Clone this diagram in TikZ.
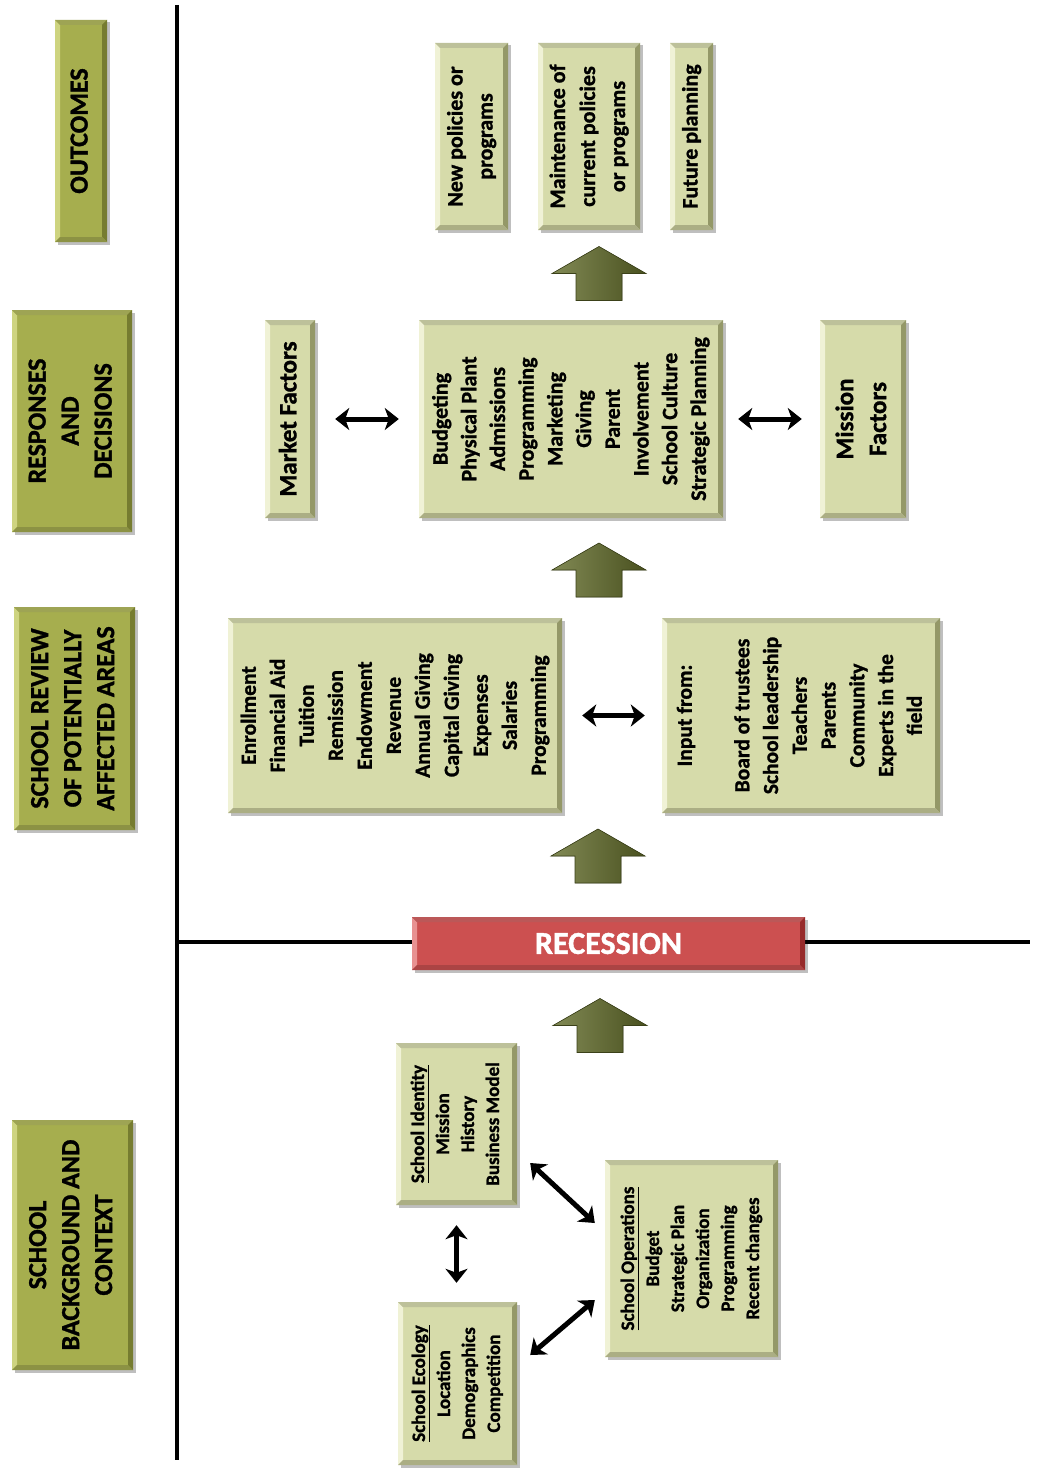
\documentclass[tikz,border=0pt]{standalone}
\usepackage{fontspec}
\setmainfont{Carlito}[BoldFeatures={FakeBold=1.2}]
\usetikzlibrary{arrows.meta,shadows,calc}
\definecolor{hfill}{RGB}{166,174,78}
\definecolor{hlight}{RGB}{206,212,128}
\definecolor{hdark}{RGB}{118,124,48}
\definecolor{cfill}{RGB}{214,219,170}
\definecolor{clight}{RGB}{240,242,214}
\definecolor{cdark}{RGB}{148,152,104}
\definecolor{rfill}{RGB}{204,80,80}
\definecolor{rlight}{RGB}{232,145,145}
\definecolor{rdark}{RGB}{150,42,42}
\definecolor{afill}{RGB}{98,108,42}
\newcommand{\rtxt}[1]{\rotatebox{90}{\begin{tabular}{@{}c@{}}#1\end{tabular}}}
\begin{document}
\begin{tikzpicture}[x=1pt,y=-1pt,
  bevel/.style 2 args={path picture={
    \path (path picture bounding box.north west) coordinate (bNW)
          (path picture bounding box.north east) coordinate (bNE)
          (path picture bounding box.south west) coordinate (bSW)
          (path picture bounding box.south east) coordinate (bSE);
    \fill[#1] (bNW) -- (bSW) -- ([shift={(5pt,5pt)}]bSW) -- ([shift={(5pt,-5pt)}]bNW) -- cycle;
    \fill[#1!45!#2] (bNW) -- (bNE) -- ([shift={(-5pt,-5pt)}]bNE) -- ([shift={(5pt,-5pt)}]bNW) -- cycle;
    \fill[#2] (bNE) -- (bSE) -- ([shift={(-5pt,5pt)}]bSE) -- ([shift={(-5pt,-5pt)}]bNE) -- cycle;
    \fill[#2!75!#1] (bSW) -- (bSE) -- ([shift={(-5pt,5pt)}]bSE) -- ([shift={(5pt,5pt)}]bSW) -- cycle;
  }},
  sz/.style 2 args={minimum width=#1pt, minimum height=#2pt},
  box/.style={rectangle, inner sep=0pt, fill=cfill, bevel={clight}{cdark},
    drop shadow={shadow xshift=2.5pt, shadow yshift=-2.5pt, opacity=0.25, fill=black},
    font=\bfseries\fontsize{22}{29}\selectfont},
  head/.style={box, fill=hfill, bevel={hlight}{hdark}, font=\bfseries\fontsize{26}{33}\selectfont},
  dbl/.style={{Stealth[length=14pt,width=22pt,inset=4pt]}-{Stealth[length=14pt,width=22pt,inset=4pt]}, line width=5pt, black},
  bigup/.pic={\fill[left color=afill!80!white, right color=afill!75!black, draw=afill!60!black, line width=0.6pt]
    (0,-27) -- (47,0) -- (23,0) -- (23,27) -- (-23,27) -- (-23,0) -- (-47,0) -- cycle;}
]
\useasboundingbox (0,0) rectangle (1037,1469);
\fill[white] (0,0) rectangle (1037,1469);

% frame lines
\draw[line width=4pt] (177,5) -- (177,1460);
\draw[line width=3.5pt] (177,942) -- (1030,942);

% section headers
\node[head,sz={52}{222}] (hOut) at (81,131) {\rtxt{OUTCOMES}};
\node[head,sz={120}{222}] (hResp) at (72,421) {\rtxt{RESPONSES\\AND\\DECISIONS}};
\node[head,sz={121}{223}] (hRev) at (74.5,718.5) {\rtxt{SCHOOL REVIEW\\OF POTENTIALLY\\AFFECTED AREAS}};
\node[head,sz={121}{250}] (hBack) at (72.5,1245) {\rtxt{SCHOOL\\BACKGROUND AND\\CONTEXT}};

% outcomes
\node[box,sz={73}{187},font=\bfseries\fontsize{22}{30}\selectfont] (oNew) at (471.5,136.5) {\rtxt{New policies or\\programs}};
\node[box,sz={102}{187},font=\bfseries\fontsize{22}{30}\selectfont] (oMaint) at (589,136.5) {\rtxt{Maintenance of\\current policies\\or programs}};
\node[box,sz={43}{187},font=\bfseries\fontsize{22}{30}\selectfont] (oFut) at (691.5,136.5) {\rtxt{Future planning}};

% responses
\node[box,sz={50}{198},font=\bfseries\fontsize{25}{32}\selectfont] (rMarket) at (290,419) {\rtxt{Market Factors}};
\node[box,sz={304}{198},font=\bfseries\fontsize{22}{28.7}\selectfont] (rMain) at (571,419) {\rtxt{Budgeting\\Physical Plant\\Admissions\\Programming\\Marketing\\Giving\\Parent\\Involvement\\School Culture\\Strategic Planning}};
\node[box,sz={86}{198},font=\bfseries\fontsize{25}{33}\selectfont] (rMission) at (863,419) {\rtxt{Mission\\Factors}};

% review
\node[box,sz={334}{195},font=\bfseries\fontsize{21.5}{29}\selectfont] (vFin) at (395,715.5) {\rtxt{Enrollment\\Financial Aid\\Tuition\\Remission\\Endowment\\Revenue\\Annual Giving\\Capital Giving\\Expenses\\Salaries\\Programming}};
\node[box,sz={278}{195},font=\bfseries\fontsize{21.5}{28.75}\selectfont] (vInput) at (801,715.5) {\rtxt{Input from:\\ \\Board of trustees\\School leadership\\Teachers\\Parents\\Community\\Experts in the\\field}};

% recession
\node[box,fill=rfill,bevel={rlight}{rdark},sz={393}{53},text=white,font=\bfseries\fontsize{32}{38}\selectfont] (rec) at (608.5,943.5) {RECESSION};

% background
\node[box,sz={121}{162},font=\bfseries\fontsize{19}{25}\selectfont] (bIdent) at (456.5,1124) {\rtxt{\underline{School Identity}\\Mission\\History\\Business Model}};
\node[box,sz={119}{163},font=\bfseries\fontsize{19}{25}\selectfont] (bEco) at (457.5,1383.5) {\rtxt{\underline{School Ecology}\\Location\\Demographics\\Competition}};
\node[box,sz={173}{197},font=\bfseries\fontsize{19}{25}\selectfont] (bOps) at (691.5,1258.5) {\rtxt{\underline{School Operations}\\Budget\\Strategic Plan\\Organization\\Programming\\Recent changes}};

% big up arrows
\pic at (599,273.5) {bigup};
\pic at (599,570) {bigup};
\pic at (598,856) {bigup};
\pic at (600,1025.5) {bigup};

% double arrows
\draw[dbl, shorten <=20pt, shorten >=20pt] (rMarket.east) -- (rMain.west);
\draw[dbl, shorten <=15pt, shorten >=18pt] (rMain.east) -- (rMission.west);
\draw[dbl, shorten <=20pt, shorten >=17pt] (vFin.east) -- (vInput.west);
\draw[dbl, shorten <=20pt, shorten >=19pt] (bIdent.south) -- (bIdent.south |- bEco.north);
\draw[dbl] ([xshift=13pt,yshift=-39pt]bIdent.east) -- ([xshift=-10pt,yshift=35.5pt]bOps.west);
\draw[dbl] ([xshift=13pt,yshift=28.5pt]bEco.east) -- ([xshift=-10pt,yshift=-41.5pt]bOps.west);
\end{tikzpicture}
\end{document}
